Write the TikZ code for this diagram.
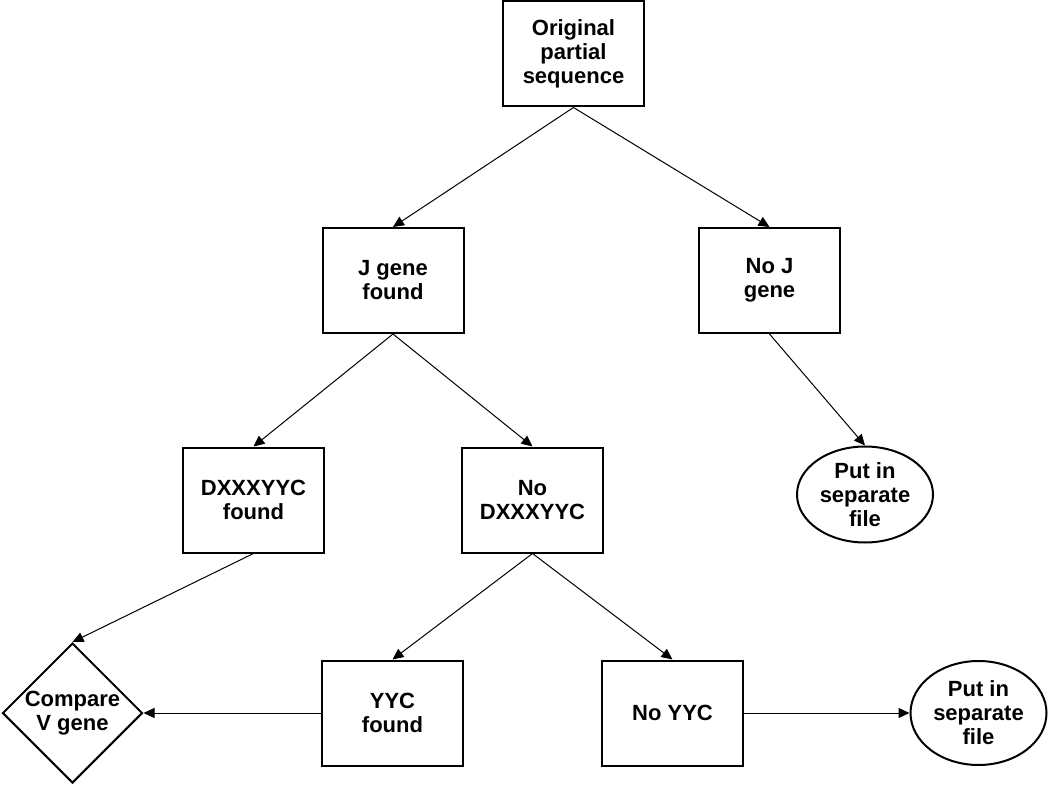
\documentclass[tikz,border=0pt]{standalone}
\usepackage{fontspec}
\setmainfont{Liberation Sans}
\usetikzlibrary{shapes.geometric,arrows.meta}
\begin{document}
\begin{tikzpicture}[x=0.5pt,y=-0.5pt,
  every node/.style={font=\fontsize{11pt}{12pt}\selectfont\bfseries, align=center, text=black},
  box/.style={draw, line width=1pt, rectangle, minimum width=70.5pt, minimum height=52.5pt, inner sep=0pt},
  oval/.style={draw, line width=1pt, ellipse, minimum width=68pt, minimum height=48pt, inner sep=0pt},
  dia/.style={draw, line width=1pt, diamond, minimum width=70pt, minimum height=70pt, inner sep=0pt},
  conn/.style={line width=0.5pt, -{Triangle[length=5.5pt,width=5pt]}}
]
\useasboundingbox (0,0) rectangle (1050,786);
\node[box] (orig) at (573.5,54) {Original\\partial\\sequence};
\node[box] (j) at (393,280.5) {J gene\\found};
\node[box] (noj) at (769.5,280.5) {No J\\gene};
\node[box] (dx) at (253.5,500) {DXXXYYC\\found};
\node[box] (nodx) at (532.5,500) {No\\DXXXYYC};
\node[oval] (put1) at (865,494.5) {Put in\\separate\\file};
\node[dia] (cmp) at (72.5,713) {Compare\\V gene};
\node[box] (yyc) at (392.5,713) {YYC\\found};
\node[box] (noyyc) at (672.5,713) {No YYC};
\node[oval, minimum height=52pt] (put2) at (978.5,713) {Put in\\separate\\file};
\draw[conn] (orig.south) -- (j.north);
\draw[conn] (orig.south) -- (noj.north);
\draw[conn] (j.south) -- (dx.north);
\draw[conn] (j.south) -- (nodx.north);
\draw[conn] (noj.south) -- (put1.north);
\draw[conn] (dx.south) -- (cmp.north);
\draw[conn] (nodx.south) -- (yyc.north);
\draw[conn] (nodx.south) -- (noyyc.north);
\draw[conn] (yyc.west) -- (cmp.east);
\draw[conn] (noyyc.east) -- (put2.west);
\end{tikzpicture}
\end{document}
